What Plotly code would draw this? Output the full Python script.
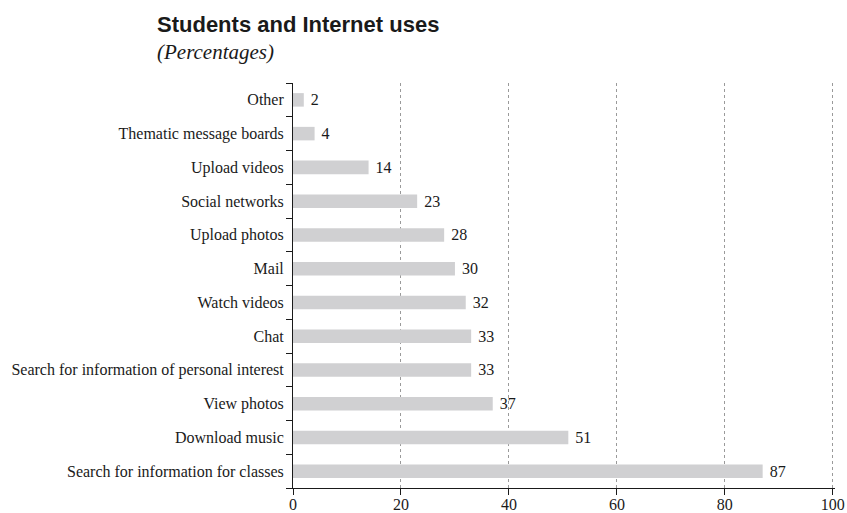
import plotly.graph_objects as go

categories = [
    "Search for information for classes",
    "Download music",
    "View photos",
    "Search for information of personal interest",
    "Chat",
    "Watch videos",
    "Mail",
    "Upload photos",
    "Social networks",
    "Upload videos",
    "Thematic message boards",
    "Other",
]
values = [87, 51, 37, 33, 33, 32, 30, 28, 23, 14, 4, 2]
x_ticks = [0, 20, 40, 60, 80, 100]

serif = "Liberation Serif, Times New Roman, serif"
sans = "Liberation Sans, Arial, sans-serif"

fig = go.Figure(
    go.Bar(
        y=categories,
        x=values,
        orientation="h",
        marker=dict(color="#d0d0d2", line=dict(width=0)),
        width=0.4,
        texttemplate=" %{x}",
        textposition="outside",
        constraintext="none",
        textfont=dict(family=serif, size=16, color="#1a1a1a"),
        cliponaxis=False,
        hoverinfo="skip",
    )
)

fig.update_layout(
    width=847,
    height=513,
    margin=dict(l=293, r=12, t=83, b=25),
    plot_bgcolor="white",
    paper_bgcolor="white",
    showlegend=False,
    font=dict(family=serif, size=16, color="#1a1a1a"),
    xaxis=dict(
        range=[0, 100.4],
        tickvals=x_ticks,
        ticks="outside",
        ticklen=6,
        tickcolor="#1a1a1a",
        showline=True,
        linecolor="#1a1a1a",
        linewidth=1,
        showgrid=True,
        gridcolor="#9a9a9a",
        griddash="3px,3px",
        gridwidth=1,
        zeroline=False,
        ticklabeloverflow="allow",
        ticklabelstandoff=-4,
        tickfont=dict(family=serif, size=16, color="#1a1a1a"),
        automargin=False,
        fixedrange=True,
    ),
    yaxis=dict(
        categoryorder="array",
        categoryarray=categories,
        ticks="outside",
        tickson="boundaries",
        ticklen=6,
        tickcolor="#1a1a1a",
        showline=True,
        linecolor="#1a1a1a",
        linewidth=1,
        showgrid=False,
        tickfont=dict(family=serif, size=16, color="#1a1a1a"),
        ticklabelstandoff=5,
        automargin=False,
        fixedrange=True,
    ),
    annotations=[
        dict(
            text="<b>Students and Internet uses</b>",
            xref="paper", yref="paper",
            x=(155 - 293) / (847 - 293 - 12), y=1.0,
            xanchor="left", yanchor="middle",
            yshift=83 - 24,
            showarrow=False,
            font=dict(family=sans, size=22, color="#1a1a1a"),
        ),
        dict(
            text="<i>(Percentages)</i>",
            xref="paper", yref="paper",
            x=(155 - 293) / (847 - 293 - 12), y=1.0,
            xanchor="left", yanchor="middle",
            yshift=83 - 52,
            showarrow=False,
            font=dict(family=serif, size=21, color="#1a1a1a"),
        ),
    ],
)

fig.write_html(
    "out.html",
    config={"displayModeBar": False},
    post_script="document.body.style.margin='0';document.body.style.overflow='hidden';",
)
